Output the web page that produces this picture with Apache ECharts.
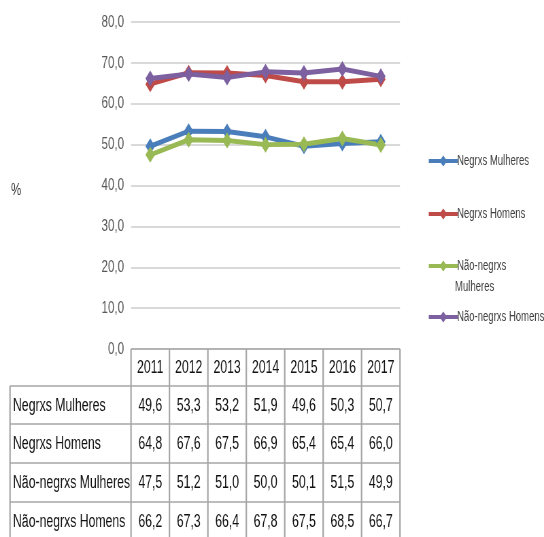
<!DOCTYPE html>
<html>
<head>
<meta charset="utf-8">
<script src="https://cdn.jsdelivr.net/npm/echarts@6/dist/echarts.min.js"></script>
<style>
  html, body { margin: 0; padding: 0; background: #fff; overflow: hidden; }
  /* o gráfico original é estreito (fonte condensada), então desenha mais largo e comprime */
  #chart { width: 800px; height: 537px; transform: scaleX(0.68); transform-origin: 0 0; }
</style>
</head>
<body>
<div id="chart"></div>
<script>
const years = ['2011', '2012', '2013', '2014', '2015', '2016', '2017'];
const negrxsMulheres = [49.6, 53.3, 53.2, 51.9, 49.6, 50.3, 50.7];
const negrxsHomens = [64.8, 67.6, 67.5, 66.9, 65.4, 65.4, 66.0];
const naoNegrxsMulheres = [47.5, 51.2, 51.0, 50.0, 50.1, 51.5, 49.9];
const naoNegrxsHomens = [66.2, 67.3, 66.4, 67.8, 67.5, 68.5, 66.7];
const seriesNames = ['Negrxs Mulheres', 'Negrxs Homens', 'Não-negrxs Mulheres', 'Não-negrxs Homens'];
const seriesData = [negrxsMulheres, negrxsHomens, naoNegrxsMulheres, naoNegrxsHomens];
const colors = ['#4A7EBB', '#BE4B48', '#98B954', '#7D60A0'];

const S = 0.68; // compressão horizontal
const px = x => x / S; // pixel final -> pixel do canvas
const FONT = "'Liberation Sans', Arial, sans-serif";
const fmt = v => v.toFixed(1).replace('.', ',');

const chart = echarts.init(document.getElementById('chart'));

// legenda: uma por série, para posicionar cada uma
const legendTops = [157, 210, 262, 313];
const legends = seriesNames.map((n, i) => ({
  data: [n],
  left: px(424),
  top: legendTops[i] - 8,
  itemWidth: px(29),
  itemHeight: 14,
  itemGap: 0,
  selectedMode: false,
  lineStyle: { width: 4 },
  formatter: name => (name === 'Não-negrxs Mulheres' ? 'Não-negrxs' : name),
  textStyle: { fontFamily: FONT, fontSize: 14, color: '#404040', padding: [0, 0, 0, -6] }
}));

chart.setOption({
  animation: false,
  color: colors,
  grid: { left: px(131), right: 800 - px(400), top: 22, bottom: 188 },
  legend: legends,
  xAxis: {
    type: 'category',
    data: years,
    boundaryGap: true,
    axisLine: { show: false },
    axisTick: { show: false },
    axisLabel: { show: false }
  },
  yAxis: {
    type: 'value',
    min: 0,
    max: 80,
    interval: 10,
    axisLine: { show: false },
    axisTick: { show: false },
    axisLabel: {
      formatter: v => fmt(v),
      fontFamily: FONT,
      fontSize: 17,
      color: '#595959',
      margin: px(7)
    },
    splitLine: { lineStyle: { color: '#D9D9D9', width: 2 } }
  },
  series: seriesNames.map((n, i) => ({
    name: n,
    type: 'line',
    data: seriesData[i],
    symbol: 'diamond',
    symbolSize: [14, 16],
    lineStyle: { width: 5, color: colors[i] },
    itemStyle: { color: colors[i] }
  }))
});

// tabela de dados abaixo do gráfico
function drawTable() {
  const els = [];
  const border = { stroke: '#A6A6A6', lineWidth: 1.5 };
  const vBorder = { stroke: '#A6A6A6', lineWidth: 2.2 };
  const rowY = [349, 386, 424, 463, 502, 540];
  const tableLeft = px(10);
  const half = (chart.convertToPixel({ xAxisIndex: 0 }, 1) - chart.convertToPixel({ xAxisIndex: 0 }, 0)) / 2;
  const centers = years.map((y, i) => chart.convertToPixel({ xAxisIndex: 0 }, i));
  const colLeft = centers[0] - half;
  const colRight = centers[centers.length - 1] + half;

  els.push({ type: 'line', shape: { x1: colLeft, y1: rowY[0], x2: colRight, y2: rowY[0] }, style: border });
  for (let r = 1; r < rowY.length - 1; r++) {
    els.push({ type: 'line', shape: { x1: tableLeft, y1: rowY[r], x2: colRight, y2: rowY[r] }, style: border });
  }
  els.push({ type: 'line', shape: { x1: tableLeft, y1: rowY[1], x2: tableLeft, y2: 537 }, style: vBorder });
  for (let c = 0; c <= years.length; c++) {
    const x = colLeft + c * half * 2;
    els.push({ type: 'line', shape: { x1: x, y1: rowY[0], x2: x, y2: 537 }, style: vBorder });
  }
  const txt = (text, x, y, align) => ({
    type: 'text',
    style: { text, x, y, align, verticalAlign: 'middle', fontFamily: FONT, fontSize: 18, fill: '#111' }
  });
  years.forEach((yr, i) => els.push(txt(yr, centers[i], (rowY[0] + rowY[1]) / 2 + 1, 'center')));
  seriesNames.forEach((n, r) => {
    const cy = (rowY[r + 1] + rowY[r + 2]) / 2 + 1;
    els.push(txt(n, px(13), cy, 'left'));
    seriesData[r].forEach((v, i) => els.push(txt(fmt(v), centers[i], cy, 'center')));
  });

  // "%" do eixo e segunda linha da legenda
  els.push({ type: 'text', style: { text: '%', x: px(11), y: 190, verticalAlign: 'middle', fontFamily: FONT, fontSize: 17, fill: '#333' } });
  els.push({ type: 'text', style: { text: 'Mulheres', x: px(455), y: 287, verticalAlign: 'middle', fontFamily: FONT, fontSize: 14, fill: '#404040' } });

  chart.setOption({ graphic: els });
}
drawTable();
</script>
</body>
</html>
